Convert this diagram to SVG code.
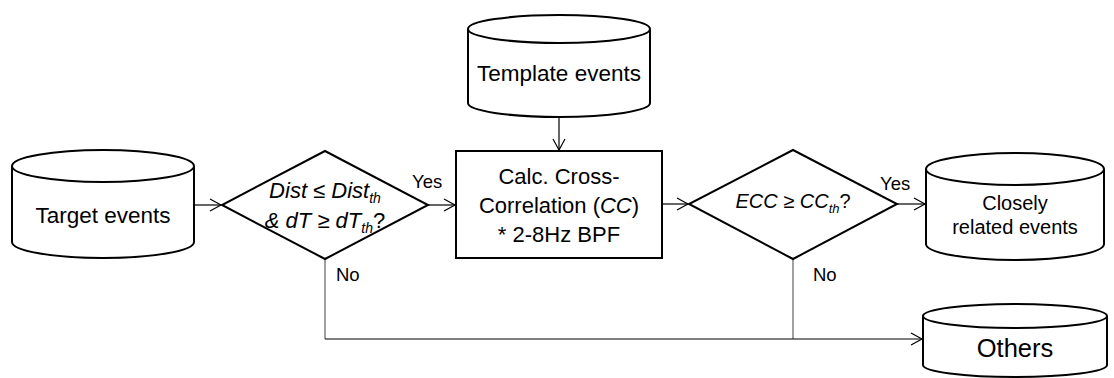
<svg xmlns="http://www.w3.org/2000/svg" width="1114" height="378" viewBox="0 0 1114 378">
<style>
.shape{fill:#fff;stroke:#000;stroke-width:2}
.inner{fill:none;stroke:#000;stroke-width:2}
.t{font-family:"Liberation Sans",Arial,sans-serif;fill:#000;text-anchor:middle}
.lbl{font-family:"Liberation Sans",Arial,sans-serif;fill:#000;font-size:18.5px}
.it{font-style:italic}
.c{fill:none;stroke:#000;stroke-width:1.2}
.g{fill:none;stroke:#808080;stroke-width:1.5}
</style>
<defs>
<marker id="arr" markerUnits="userSpaceOnUse" markerWidth="14" markerHeight="16" refX="12" refY="7" orient="auto" viewBox="0 0 14 14">
<path d="M1,1 L12,7 L1,13" fill="none" stroke="#000" stroke-width="1.2"/>
</marker>
</defs>
<g id="connectors">
<line class="c" x1="194" y1="205" x2="221" y2="205" marker-end="url(#arr)"/>
<line class="c" x1="428" y1="205" x2="455" y2="205" marker-end="url(#arr)"/>
<line class="c" x1="559" y1="117" x2="559" y2="150" marker-end="url(#arr)"/>
<line class="c" x1="662" y1="204" x2="688" y2="204" marker-end="url(#arr)"/>
<line class="c" x1="897" y1="204" x2="925" y2="204" marker-end="url(#arr)"/>
<line class="g" x1="325" y1="259" x2="325" y2="339"/>
<line class="g" x1="793" y1="259" x2="793" y2="339"/>
<line class="c" x1="325" y1="339" x2="922" y2="339" marker-end="url(#arr)"/>
<text class="lbl" x="412" y="188">Yes</text>
<text class="lbl" x="880" y="190">Yes</text>
<text class="lbl" x="336" y="281">No</text>
<text class="lbl" x="813" y="281">No</text>
</g>
<g id="target">
<path class="shape" d="M12,166 V242 A91,16 0 0 0 194,242 V166 A91,16 0 0 0 12,166 Z"/>
<path class="inner" d="M12,166 A91,16 0 0 0 194,166"/>
<text class="t" x="103" y="223" font-size="22.5">Target events</text>
</g>
<g id="template">
<path class="shape" d="M468,29 V103 A91,14 0 0 0 650,103 V29 A91,14 0 0 0 468,29 Z"/>
<path class="inner" d="M468,29 A91,14 0 0 0 650,29"/>
<text class="t" x="559" y="81" font-size="22.5">Template events</text>
</g>
<g id="decision1">
<polygon class="shape" points="325,151 428,205 325,259 222,205"/>
<text class="t it" x="325" y="198" font-size="22">Dist ≤ Dist<tspan font-size="14" dy="5">th</tspan></text>
<text class="t it" x="325" y="228" font-size="22">&amp; dT ≥ dT<tspan font-size="14" dy="5">th</tspan><tspan dy="-5" font-style="normal">?</tspan></text>
</g>
<g id="crosscorr">
<rect class="shape" x="456" y="151" width="206" height="107"/>
<text class="t" x="559" y="184" font-size="22">Calc. Cross-</text>
<text class="t" x="559" y="213" font-size="22">Correlation (<tspan class="it">CC</tspan>)</text>
<text class="t" x="559" y="242" font-size="22">* 2-8Hz BPF</text>
</g>
<g id="decision2">
<polygon class="shape" points="793,150 897,204 793,259 689,204"/>
<text class="t" x="793" y="208" font-size="20"><tspan class="it">ECC</tspan> ≥ <tspan class="it">CC</tspan><tspan class="it" font-size="13" dy="5">th</tspan><tspan dy="-5">?</tspan></text>
</g>
<g id="closely">
<path class="shape" d="M926,169 V244 A89,16 0 0 0 1104,244 V169 A89,16 0 0 0 926,169 Z"/>
<path class="inner" d="M926,169 A89,16 0 0 0 1104,169"/>
<text class="t" x="1015" y="210" font-size="20">Closely</text>
<text class="t" x="1015" y="234" font-size="20">related events</text>
</g>
<g id="others">
<path class="shape" d="M923,316 V365 A92,12 0 0 0 1107,365 V316 A92,12 0 0 0 923,316 Z"/>
<path class="inner" d="M923,316 A92,12 0 0 0 1107,316"/>
<text class="t" x="1015" y="357" font-size="25.5">Others</text>
</g>
</svg>
